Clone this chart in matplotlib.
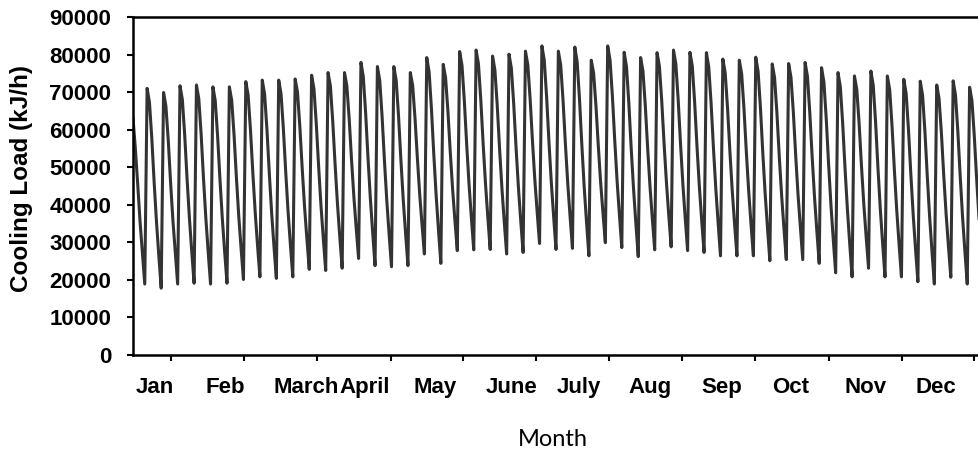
import matplotlib
matplotlib.use("Agg")
import matplotlib.pyplot as plt

# Daily cooling load (kJ/h) over the year, day 0 = 1 January
cooling_load = [
    63000, 55000, 45500, 35500, 27000, 18900,
    71000, 67300, 57700, 46000, 35400, 26300, 17800,
    69900, 66300, 57200, 45900, 35700, 27100, 18900,
    71700, 68000, 58600, 47000, 36500, 27500, 19100,
    71900, 68200, 58700, 47000, 36400, 27400, 18900,
    71400, 67700, 58300, 46800, 36400, 27500, 19100,
    71400, 67800, 58600, 47300, 37000, 28300, 20100,
    72800, 69200, 59800, 48400, 38000, 29100, 20800,
    73200, 69500, 60000, 48400, 37800, 28800, 20400,
    73200, 69500, 60100, 48600, 38100, 29200, 20800,
    73500, 70000, 60800, 49700, 39500, 30900, 22800,
    74500, 70900, 61500, 50100, 39700, 30800, 22500,
    75200, 71600, 62200, 50700, 40300, 31400, 23100,
    75200, 71700, 62800, 51900, 42000, 33600, 25700,
    77900, 74100, 64400, 52500, 41700, 32500, 23800,
    76800, 73100, 63500, 51700, 41100, 32000, 23500,
    76800, 73100, 63600, 51900, 41300, 32300, 23800,
    75200, 71800, 63100, 52500, 42800, 34600, 26900,
    79200, 75400, 65500, 53400, 42500, 33200, 24400,
    77400, 73900, 65000, 54100, 44200, 35700, 27800,
    80800, 77100, 67600, 56000, 45400, 36400, 28000,
    81200, 77500, 67900, 56200, 45600, 36600, 28100,
    79600, 75900, 66400, 54800, 44300, 35300, 26900,
    80100, 76400, 66900, 55300, 44700, 35700, 27300,
    80900, 77300, 68100, 56800, 46600, 37900, 29700,
    82300, 78500, 68800, 56800, 46000, 36800, 28100,
    80900, 77200, 67800, 56200, 45700, 36800, 28400,
    82000, 78100, 68100, 55900, 44700, 35300, 26400,
    78500, 75100, 66400, 55700, 45900, 37700, 29900,
    82300, 78500, 68900, 57100, 46300, 37200, 28600,
    80600, 76800, 67000, 55000, 44200, 34900, 26200,
    79200, 75600, 66400, 55100, 44900, 36200, 28000,
    80500, 76900, 67600, 56200, 45900, 37100, 28800,
    81200, 77500, 67900, 56100, 45400, 36300, 27800,
    80600, 76900, 67300, 55500, 44900, 35800, 27300,
    80500, 76700, 67000, 55100, 44300, 35100, 26400,
    78800, 75100, 65700, 54200, 43700, 34800, 26400,
    78500, 74900, 65500, 54000, 43600, 34700, 26400,
    79300, 75500, 65800, 53800, 43000, 33800, 25100,
    77500, 73900, 64500, 53000, 42600, 33700, 25400,
    77600, 73900, 64600, 53100, 42600, 33800, 25400,
    77900, 74200, 64500, 52800, 42100, 33000, 24400,
    76500, 72700, 62900, 50800, 39900, 30600, 21900,
    75200, 71400, 61600, 49600, 38800, 29500, 20800,
    74300, 70700, 61500, 50200, 40000, 31300, 23100,
    75600, 71800, 61900, 49800, 38900, 29600, 20800,
    74300, 70600, 60900, 49200, 38500, 29400, 20800,
    73400, 69600, 59900, 48100, 37300, 28100, 19500,
    72900, 69100, 59400, 47500, 36700, 27500, 18900,
    71900, 68300, 59100, 47800, 37600, 28900, 20700,
    73000, 69200, 59500, 47600, 36800, 27600, 18900,
    71300, 67700, 58300, 46800, 36400, 27500, 19200,
    70500, 66800,
]
days = list(range(len(cooling_load)))

month_labels = ["Jan", "Feb", "March", "April", "May", "June",
                "July", "Aug", "Sep", "Oct", "Nov", "Dec"]
month_label_days = [9.4, 39.1, 73.6, 98.4, 128.5, 161.3,
                    189.8, 220.0, 250.6, 280.0, 311.9, 341.7]
month_tick_days = [16.2, 47.2, 78.3, 109.8, 140.4, 171.5,
                   202.6, 233.6, 264.7, 296.2, 327.2, 357.9]
load_ticks = list(range(0, 90001, 10000))

W, H = 979, 453
fig = plt.figure(figsize=(W / 100, H / 100), dpi=100)
ax = fig.add_axes([133 / W, 98 / H, 846 / W, 338 / H])

ax.plot(days, cooling_load, color="#333333", linewidth=2.2, solid_joinstyle="round")

ax.set_xlim(0, 360)
ax.set_ylim(0, 90000)

ax.spines["right"].set_visible(False)
for side in ("left", "bottom", "top"):
    ax.spines[side].set_linewidth(1.8)
    ax.spines[side].set_color("black")

tick_font = dict(family="Liberation Sans", weight="bold", size=16)

ax.set_yticks(load_ticks)
ax.set_yticklabels([str(v) for v in load_ticks], fontdict=tick_font)
ax.tick_params(axis="y", direction="out", length=4.5, width=1.5, pad=11)

ax.set_xticks(month_tick_days)
ax.set_xticklabels([""] * len(month_tick_days))
ax.tick_params(axis="x", which="major", direction="out", length=4, width=1.5)
ax.set_xticks(month_label_days, minor=True)
ax.set_xticklabels(month_labels, minor=True, fontdict=tick_font)
ax.tick_params(axis="x", which="minor", length=0, pad=16)

fig.text(22 / W, 1 - 178 / H, "Cooling Load (kJ/h)", rotation=90,
         ha="center", va="center", family="Liberation Sans", weight="bold", size=17.5)
fig.text(553 / W, 1 - 440 / H, "Month", ha="center", va="center",
         family="Lato", size=17)

fig.savefig("out.png", dpi=100)
